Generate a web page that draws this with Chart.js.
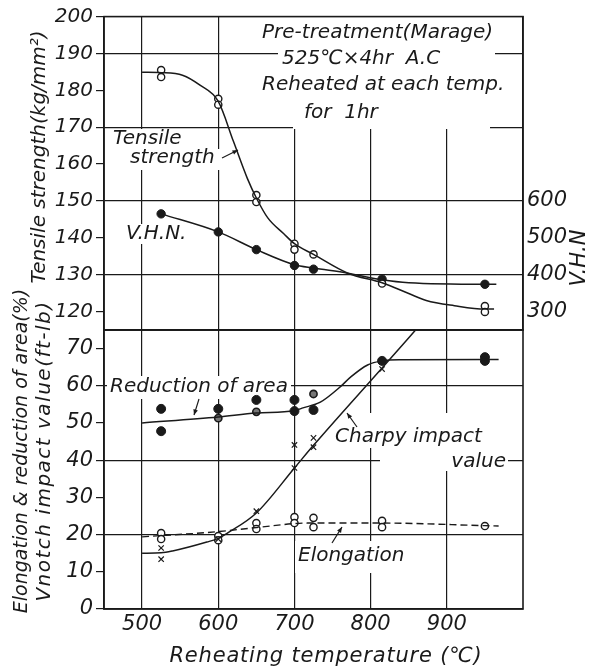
<!DOCTYPE html>
<html>
<head>
<meta charset="utf-8">
<script src="https://cdn.jsdelivr.net/npm/chart.js@4.4.0/dist/chart.umd.min.js"></script>
<style>
  html, body { margin: 0; padding: 0; background: #ffffff; }
  #wrap { position: relative; width: 604px; height: 671px; overflow: hidden; }
  #wrap canvas { position: absolute; left: 0; top: 0; }
</style>
</head>
<body>
<div id="wrap">
  <canvas id="topChart" width="604" height="671"></canvas>
  <canvas id="botChart" width="604" height="671"></canvas>
</div>
<script>
// ---------------- DATA ----------------
// Tick labels
const tempTicks = [500, 600, 700, 800, 900];                        // Reheating temperature (°C)
const tensileTicks = [120, 130, 140, 150, 160, 170, 180, 190, 200]; // kg/mm^2
const tensileGrid = [130, 150, 170, 190];
const vhnTicks = [300, 400, 500, 600];
const lowerTicks = [0, 10, 20, 30, 40, 50, 60, 70];                 // %, ft-lb
const lowerGrid = [20, 40, 60];

// Tensile strength (kg/mm^2) – open circles
const tensileTemp = [525, 525, 600, 600, 650, 650, 700, 700, 725, 815, 950, 950];
const tensileVal  = [185.5, 183.6, 177.7, 176.1, 151.6, 149.7, 138.4, 136.8, 135.5, 127.6, 121.5, 119.9];
// Tensile strength drawn curve
const tensileCurveTemp = [500, 525, 553, 576, 600, 620, 638, 650, 665, 686, 700, 725, 770, 815, 850, 873, 910, 950, 962];
const tensileCurveVal  = [184.9, 184.8, 184.1, 181.4, 177.0, 166.1, 156.2, 150.8, 145.4, 141.1, 138.4, 135.5, 130.4, 127.8, 124.9, 123.0, 121.6, 120.7, 120.7];

// V.H.N. – filled circles (right axis)
const vhnTemp = [525, 600, 650, 700, 725, 815, 950];
const vhnVal  = [565, 516, 468, 425, 415, 388, 374];
const vhnCurveTemp = [525, 600, 650, 700, 725, 770, 815, 850, 950, 965];
const vhnCurveVal  = [565, 516, 468, 427, 418, 404, 386, 378, 374, 374];

// Reduction of area (%) – filled and half-filled circles
const reductionTemp = [525, 525, 600, 650, 700, 700, 725, 815, 950, 950];
const reductionVal  = [53.8, 47.8, 53.8, 56.2, 56.2, 53.2, 53.5, 66.7, 67.7, 66.7];
const reductionHalfTemp = [600, 650, 725];
const reductionHalfVal  = [51.3, 53.0, 57.8];
const reductionCurveTemp = [500, 600, 650, 700, 710, 734, 760, 774, 796, 815, 840, 950, 968];
const reductionCurveVal  = [50.0, 51.6, 52.7, 53.3, 54.0, 55.6, 59.7, 62.4, 65.6, 66.7, 67.0, 67.1, 67.1];

// Charpy (V-notch) impact value (ft-lb) – crosses
const charpyTemp = [525, 525, 600, 650, 700, 700, 725, 725, 815];
const charpyVal  = [16.4, 13.4, 18.8, 26.3, 44.1, 37.9, 46.0, 43.5, 64.5];
const charpyCurveTemp = [500, 525, 540, 585, 600, 612, 650, 700, 725, 815, 859];
const charpyCurveVal  = [15.0, 15.1, 15.6, 18.0, 19.0, 20.4, 25.8, 37.9, 44.0, 64.8, 75.0];

// Elongation (%) – open circles, dashed curve
const elongTemp = [525, 525, 600, 600, 650, 650, 700, 700, 725, 725, 815, 815, 950];
const elongVal  = [20.4, 18.8, 19.6, 18.5, 23.1, 21.5, 24.7, 23.1, 24.5, 22.0, 23.7, 22.0, 22.3];
const elongCurveTemp = [500, 600, 650, 718, 815, 950, 968];
const elongCurveVal  = [19.4, 20.8, 21.9, 23.1, 23.1, 22.4, 22.3];

// ---------------- helpers ----------------
const INK = '#1a1a1a';
const FONT = '"DejaVu Sans", "Liberation Sans", sans-serif';
Chart.defaults.font.family = FONT;
Chart.defaults.font.style = 'italic';
Chart.defaults.color = INK;

const zip = (xs, ys) => xs.map((x, i) => ({ x: x, y: ys[i] }));
const setTicks = (list) => (scale) => { scale.ticks = list.map(v => ({ value: v })); };
const CLEAR = 'rgba(0,0,0,0)';

function arrow(ctx, x1, y1, x2, y2) {
  const ang = Math.atan2(y2 - y1, x2 - x1);
  const h = 6;
  ctx.beginPath();
  ctx.moveTo(x1, y1);
  ctx.lineTo(x2, y2);
  ctx.stroke();
  ctx.beginPath();
  ctx.moveTo(x2, y2);
  ctx.lineTo(x2 - h * Math.cos(ang - 0.4), y2 - h * Math.sin(ang - 0.4));
  ctx.lineTo(x2 - h * Math.cos(ang + 0.4), y2 - h * Math.sin(ang + 0.4));
  ctx.closePath();
  ctx.fill();
}

function annotationPlugin(id, boxes, labels, arrows, titles) {
  return {
    id: id,
    beforeDatasetsDraw(chart) {
      const ctx = chart.ctx;
      const a = chart.chartArea;
      ctx.save();
      ctx.fillStyle = '#ffffff';
      boxes.forEach(b => ctx.fillRect(b[0], b[1], b[2] - b[0], b[3] - b[1]));
      ctx.strokeStyle = INK;
      ctx.lineWidth = 1.6;
      ctx.strokeRect(a.left, a.top, a.right - a.left, a.bottom - a.top);
      ctx.fillStyle = INK;
      ctx.textBaseline = 'middle';
      labels.forEach(t => {
        ctx.font = 'italic ' + (t.size || 20) + 'px ' + FONT;
        ctx.textAlign = t.align || 'left';
        ctx.fillText(t.text, t.x, t.y);
      });
      ctx.lineWidth = 1.2;
      arrows.forEach(r => arrow(ctx, r[0], r[1], r[2], r[3]));
      ctx.restore();
    },
    afterDraw(chart) {
      const ctx = chart.ctx;
      titles.forEach(t => {
        ctx.save();
        ctx.translate(t.x, t.y);
        ctx.rotate(t.rot === undefined ? -Math.PI / 2 : t.rot);
        ctx.font = 'italic ' + t.size + 'px ' + FONT;
        if (t.spacing) { try { ctx.letterSpacing = t.spacing; } catch (e) {} }
        ctx.fillStyle = INK;
        ctx.textAlign = 'center';
        ctx.textBaseline = 'middle';
        ctx.fillText(t.text, 0, 0);
        ctx.restore();
      });
    }
  };
}

const gridColorX = (ctx) => (tempTicks.includes(ctx.tick.value) ? INK : CLEAR);

// ---------------- TOP PANEL ----------------
const topPlugin = annotationPlugin('topAnn',
  [
    [110, 129, 186, 150],   // Tensile
    [127, 149, 222, 170],   // strength
    [122, 224, 187, 244],   // V.H.N.
    [258, 17, 506, 46],     // Pre-treatment
    [278, 46, 495, 72],     // 525C x 4hr
    [258, 72, 515, 100],    // Reheated at...
    [293, 100, 490, 129]    // for 1hr
  ],
  [
    { text: 'Pre-treatment(Marage)', x: 262, y: 33 },
    { text: '525\u2103\u00d74hr  A.C', x: 282, y: 59 },
    { text: 'Reheated at each temp.', x: 262, y: 85 },
    { text: 'for  1hr', x: 304, y: 113 },
    { text: 'Tensile', x: 113, y: 139 },
    { text: 'strength', x: 130, y: 158 },
    { text: 'V.H.N.', x: 126, y: 234 }
  ],
  [
    [222, 158, 238, 150]
  ],
  [
    { text: 'Tensile strength(kg/mm\u00b2)', x: 40, y: 157, size: 20 },
    { text: 'V.H.N', x: 580, y: 258, size: 21 }
  ]
);

new Chart(document.getElementById('topChart'), {
  type: 'scatter',
  data: {
    datasets: [
      {
        label: 'Tensile strength curve', data: zip(tensileCurveTemp, tensileCurveVal), yAxisID: 'yTS',
        showLine: true, pointRadius: 0, borderColor: INK, borderWidth: 1.5,
        cubicInterpolationMode: 'monotone'
      },
      {
        label: 'V.H.N. curve', data: zip(vhnCurveTemp, vhnCurveVal), yAxisID: 'yVHN',
        showLine: true, pointRadius: 0, borderColor: INK, borderWidth: 1.5,
        cubicInterpolationMode: 'monotone'
      },
      {
        label: 'Tensile strength', data: zip(tensileTemp, tensileVal), yAxisID: 'yTS',
        pointStyle: 'circle', pointRadius: 3.6, pointBorderWidth: 1.4,
        pointBackgroundColor: '#ffffff', pointBorderColor: INK
      },
      {
        label: 'V.H.N.', data: zip(vhnTemp, vhnVal), yAxisID: 'yVHN',
        pointStyle: 'circle', pointRadius: 4.2, pointBorderWidth: 1,
        pointBackgroundColor: INK, pointBorderColor: INK
      }
    ]
  },
  options: {
    responsive: false,
    animation: false,
    events: [],
    layout: { padding: { top: 14, left: 0, right: 0, bottom: 0 } },
    plugins: { legend: { display: false }, tooltip: { enabled: false } },
    scales: {
      x: {
        type: 'linear', min: 450, max: 1000,
        afterBuildTicks: setTicks(tempTicks),
        ticks: { display: false },
        grid: { color: gridColorX, lineWidth: 1.2, drawTicks: false },
        border: { color: INK, width: 1.6 },
        afterFit: (s) => { s.height = 341; }
      },
      yTS: {
        type: 'linear', position: 'left', min: 115, max: 200,
        afterBuildTicks: setTicks(tensileTicks),
        ticks: { padding: 3, autoSkip: false, font: { size: 20, style: 'italic' } },
        grid: {
          color: (ctx) => (tensileGrid.includes(ctx.tick.value) ? INK : CLEAR),
          tickColor: INK, lineWidth: 1.2, tickLength: 8, tickWidth: 1.2
        },
        border: { color: INK, width: 1.6 },
        afterFit: (s) => { s.width = 104; }
      },
      yVHN: {
        type: 'linear', position: 'right', min: 250, max: 1100,
        afterBuildTicks: setTicks(vhnTicks),
        ticks: { padding: 4, autoSkip: false, font: { size: 21, style: 'italic' } },
        grid: { drawOnChartArea: false, drawTicks: false },
        border: { color: INK, width: 1.6 },
        afterFit: (s) => { s.width = 81; }
      }
    }
  },
  plugins: [topPlugin]
});

// ---------------- BOTTOM PANEL ----------------
const botPlugin = annotationPlugin('botAnn',
  [
    [107, 376, 291, 399],   // Reduction of area
    [333, 413, 493, 448],   // Charpy impact
    [380, 448, 508, 471],   // value
    [295, 541, 415, 573]    // Elongation
  ],
  [
    { text: 'Reduction of area', x: 110, y: 387 },
    { text: 'Charpy impact', x: 335, y: 437 },
    { text: 'value', x: 506, y: 462, align: 'right' },
    { text: 'Elongation', x: 298, y: 556 }
  ],
  [
    [199, 399, 194, 415],
    [357, 427, 347, 413],
    [332, 543, 342, 527]
  ],
  [
    { text: 'Elongation & reduction of area(%)', x: 22, y: 451, size: 19 },
    { text: 'Vnotch impact value(ft-lb)', x: 45, y: 451, size: 20, spacing: '1.5px' },
    { text: 'Reheating temperature (\u2103)', x: 326, y: 657, size: 21, spacing: '0.8px', rot: 0 }
  ]
);

new Chart(document.getElementById('botChart'), {
  type: 'scatter',
  data: {
    datasets: [
      {
        label: 'Reduction of area curve', data: zip(reductionCurveTemp, reductionCurveVal),
        showLine: true, pointRadius: 0, borderColor: INK, borderWidth: 1.5,
        cubicInterpolationMode: 'monotone'
      },
      {
        label: 'Charpy impact value curve', data: zip(charpyCurveTemp, charpyCurveVal),
        showLine: true, pointRadius: 0, borderColor: INK, borderWidth: 1.5,
        cubicInterpolationMode: 'monotone'
      },
      {
        label: 'Elongation curve', data: zip(elongCurveTemp, elongCurveVal),
        showLine: true, pointRadius: 0, borderColor: INK, borderWidth: 1.4,
        borderDash: [7, 4], cubicInterpolationMode: 'monotone'
      },
      {
        label: 'Reduction of area', data: zip(reductionTemp, reductionVal),
        pointStyle: 'circle', pointRadius: 4.5, pointBorderWidth: 1,
        pointBackgroundColor: INK, pointBorderColor: INK
      },
      {
        label: 'Reduction of area (2)', data: zip(reductionHalfTemp, reductionHalfVal),
        pointStyle: 'circle', pointRadius: 3.6, pointBorderWidth: 1.6,
        pointBackgroundColor: '#777777', pointBorderColor: INK
      },
      {
        label: 'Charpy impact value', data: zip(charpyTemp, charpyVal),
        pointStyle: 'crossRot', pointRadius: 3.8, pointBorderWidth: 1.2,
        pointBorderColor: INK
      },
      {
        label: 'Elongation', data: zip(elongTemp, elongVal),
        pointStyle: 'circle', pointRadius: 3.6, pointBorderWidth: 1.4,
        pointBackgroundColor: '#ffffff', pointBorderColor: INK
      }
    ]
  },
  options: {
    responsive: false,
    animation: false,
    events: [],
    layout: { padding: { top: 330, left: 0, right: 81, bottom: 0 } },
    plugins: { legend: { display: false }, tooltip: { enabled: false } },
    scales: {
      x: {
        type: 'linear', min: 450, max: 1000,
        afterBuildTicks: setTicks(tempTicks),
        ticks: { padding: 3, maxRotation: 0, autoSkip: false, font: { size: 21, style: 'italic' } },
        grid: { color: gridColorX, lineWidth: 1.2, drawTicks: false },
        border: { color: INK, width: 1.6 },
        afterFit: (s) => { s.height = 62; }
      },
      y: {
        type: 'linear', position: 'left', min: 0, max: 75,
        afterBuildTicks: setTicks(lowerTicks),
        ticks: { padding: 3, autoSkip: false, font: { size: 21, style: 'italic' } },
        grid: {
          color: (ctx) => (lowerGrid.includes(ctx.tick.value) ? INK : CLEAR),
          tickColor: INK, lineWidth: 1.2, tickLength: 8, tickWidth: 1.2
        },
        border: { color: INK, width: 1.6 },
        afterFit: (s) => { s.width = 104; }
      }
    }
  },
  plugins: [botPlugin]
});
</script>
</body>
</html>
